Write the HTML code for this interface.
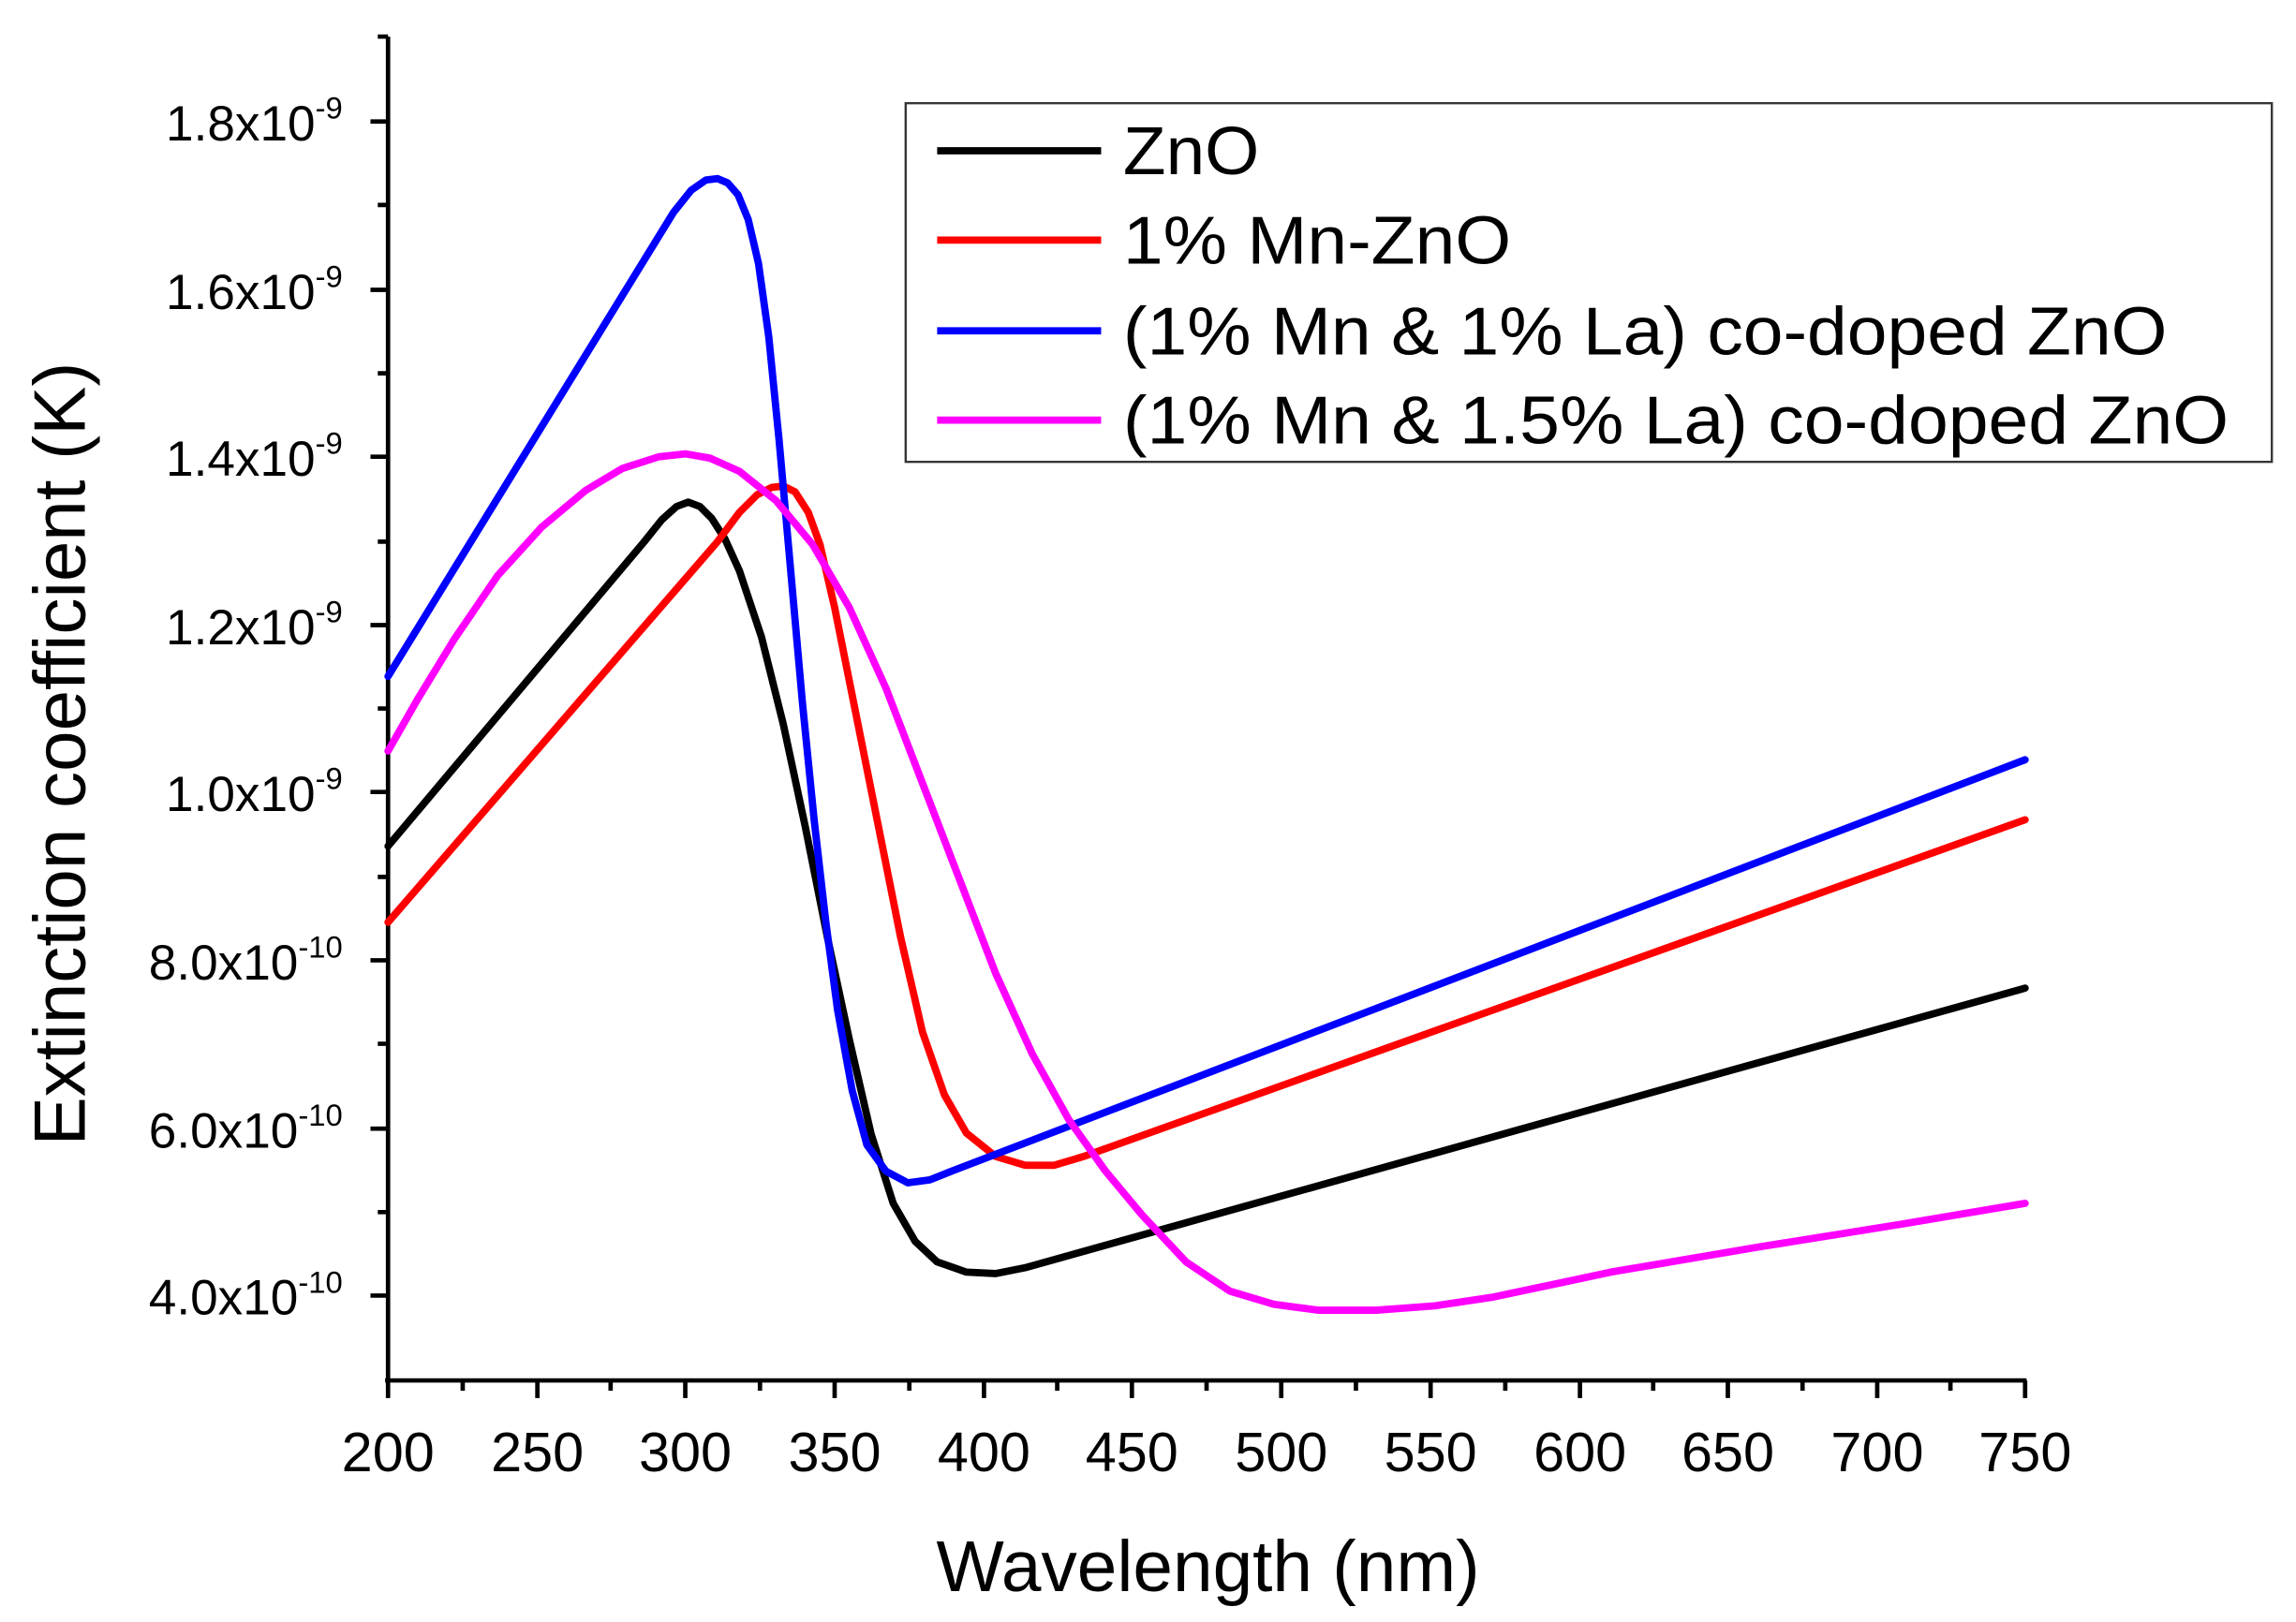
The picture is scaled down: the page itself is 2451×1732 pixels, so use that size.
<!DOCTYPE html>
<html><head><meta charset="utf-8"><style>html,body{margin:0;padding:0;background:#fff}svg{display:block}</style></head>
<body>
<svg width="2451" height="1732" viewBox="0 0 1568 1108" preserveAspectRatio="none" xmlns="http://www.w3.org/2000/svg" font-family="Liberation Sans, sans-serif">
<rect width="1568" height="1108" fill="#fff"/>
<g stroke="#000" stroke-width="3" fill="none">
<line x1="265" y1="25" x2="265" y2="944"/>
<line x1="263" y1="943" x2="1384" y2="943"/>
<path d="M253 83H265M253 198H265M253 312H265M253 427H265M253 541H265M253 656H265M253 771H265M253 885H265"/>
<path d="M258 25H265M258 140H265M258 255H265M258 370H265M258 484H265M258 599H265M258 713H265M258 828H265"/>
<path d="M265 943V955M367 943V955M468 943V955M570 943V955M672 943V955M773 943V955M875 943V955M977 943V955M1079 943V955M1180 943V955M1282 943V955M1383 943V955"/>
<path d="M316 943V950M417 943V950M519 943V950M621 943V950M722 943V950M824 943V950M926 943V950M1028 943V950M1129 943V950M1231 943V950M1332 943V950"/>
</g>
<g font-size="34" text-anchor="end" fill="#000">
<text x="234" y="96">1.8x10<tspan font-size="21" dy="-15">-9</tspan></text>
<text x="234" y="211">1.6x10<tspan font-size="21" dy="-15">-9</tspan></text>
<text x="234" y="325">1.4x10<tspan font-size="21" dy="-15">-9</tspan></text>
<text x="234" y="440">1.2x10<tspan font-size="21" dy="-15">-9</tspan></text>
<text x="234" y="554">1.0x10<tspan font-size="21" dy="-15">-9</tspan></text>
<text x="234" y="669">8.0x10<tspan font-size="21" dy="-15">-10</tspan></text>
<text x="234" y="784">6.0x10<tspan font-size="21" dy="-15">-10</tspan></text>
<text x="234" y="898">4.0x10<tspan font-size="21" dy="-15">-10</tspan></text>
</g>
<g font-size="38" text-anchor="middle" fill="#000">
<text x="265" y="1005">200</text><text x="367" y="1005">250</text><text x="468" y="1005">300</text><text x="570" y="1005">350</text><text x="672" y="1005">400</text><text x="773" y="1005">450</text><text x="875" y="1005">500</text><text x="977" y="1005">550</text><text x="1079" y="1005">600</text><text x="1180" y="1005">650</text><text x="1282" y="1005">700</text><text x="1383" y="1005">750</text>
</g>
<text x="825" y="1087" font-size="49" text-anchor="middle">Wavelength (nm)</text>
<text transform="translate(58,515) rotate(-90)" font-size="50" text-anchor="middle">Extinction coefficient (K)</text>
<g fill="none" stroke-width="5" stroke-linejoin="round" stroke-linecap="round">
<polyline stroke="#000" points="265,578 440,370 452,355 462,346 470,343 478,346 486,354 495,368 505,390 520,435 535,495 550,565 565,640 580,710 595,775 610,822 625,848 640,862 660,869 680,870 700,866 1383,675"/>
<polyline stroke="#f00" points="265,630 490,370 505,350 517,338 527,333 535,332 543,336 552,350 560,372 570,415 585,490 600,565 615,640 630,705 645,748 660,774 680,790 700,796 720,796 740,790 1383,560"/>
<polyline stroke="#00f" points="265,462 460,145 472,130 482,123 490,122 497,125 504,133 511,150 518,180 525,230 532,300 540,390 548,480 556,560 564,630 572,690 582,745 592,782 605,800 620,808 635,806 650,800 1383,519"/>
<polyline stroke="#f0f" points="265,513 285,478 310,437 340,393 370,360 400,335 425,320 450,312 468,310 485,313 505,322 530,342 555,372 580,415 605,470 630,535 655,600 680,665 705,720 730,765 755,800 780,830 810,862 840,882 870,891 900,895 940,895 980,892 1020,886 1100,869 1200,852 1300,836 1383,822"/>
</g>
<rect x="618.5" y="70.5" width="933" height="245" fill="none" stroke="#333" stroke-width="1.5"/>
<g stroke-width="5">
<line x1="640" y1="103" x2="752" y2="103" stroke="#000"/>
<line x1="640" y1="164" x2="752" y2="164" stroke="#f00"/>
<line x1="640" y1="226" x2="752" y2="226" stroke="#00f"/>
<line x1="640" y1="287" x2="752" y2="287" stroke="#f0f"/>
</g>
<g font-size="46" fill="#000">
<text x="767" y="119" textLength="93" lengthAdjust="spacingAndGlyphs">ZnO</text>
<text x="767" y="180" textLength="265" lengthAdjust="spacingAndGlyphs">1% Mn-ZnO</text>
<text x="767" y="242" textLength="713" lengthAdjust="spacingAndGlyphs">(1% Mn &amp; 1% La) co-doped ZnO</text>
<text x="767" y="303" textLength="755" lengthAdjust="spacingAndGlyphs">(1% Mn &amp; 1.5% La) co-doped ZnO</text>
</g>
</svg>
</body></html>
